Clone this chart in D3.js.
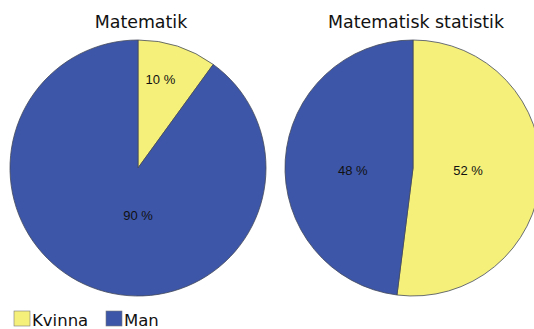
<!DOCTYPE html>
<html>
<head>
<meta charset="utf-8">
<script src="https://cdn.jsdelivr.net/npm/d3@7"></script>
<style>
  html, body { margin: 0; padding: 0; background: #fff; }
  svg { display: block; }
</style>
</head>
<body>
<svg id="chart" width="534" height="329"></svg>
<script>
// Gender split per subject (percent)
const subjects = ["Matematik", "Matematisk statistik"];
const genders = ["Kvinna", "Man"];
const kvinnaPct = [10, 52];
const manPct = [90, 48];
const colors = ["#f5f07a", "#3d56a8"];

const svg = d3.select("#chart");
const R = 128;
const centers = [{ x: 138, y: 168 }, { x: 413, y: 168 }];
const titleX = [141, 416];

// Label anchors within each pie, in units of the radius
const labelPos = [
  [{ dx: 0.175, dy: -0.69 }, { dx: 0.0, dy: 0.37 }],
  [{ dx: 0.43, dy: 0.02 }, { dx: -0.47, dy: 0.02 }]
];

const color = d3.scaleOrdinal().domain(genders).range(colors);
const pie = d3.pie().sort(null).value(d => d.value);
const arc = d3.arc().innerRadius(0).outerRadius(R);

subjects.forEach((subj, i) => {
  const data = [
    { key: genders[0], value: kvinnaPct[i] },
    { key: genders[1], value: manPct[i] }
  ];
  const g = svg.append("g").attr("transform", `translate(${centers[i].x},${centers[i].y})`);

  const arcs = pie(data);
  g.selectAll("path")
    .data(arcs)
    .join("path")
    .attr("d", arc)
    .attr("fill", d => color(d.data.key))
    .attr("stroke", "#444a5a")
    .attr("stroke-width", 0.8);

  g.selectAll("text.lbl")
    .data(arcs)
    .join("text")
    .attr("class", "lbl")
    .attr("x", (d, j) => labelPos[i][j].dx * R)
    .attr("y", (d, j) => labelPos[i][j].dy * R)
    .attr("dy", "0.35em")
    .attr("text-anchor", "middle")
    .style("font-family", "Liberation Sans, Arial, sans-serif")
    .style("font-size", "13px")
    .attr("fill", "#111")
    .text(d => d3.format("d")(d.data.value) + " %");

  svg.append("text")
    .attr("x", titleX[i])
    .attr("y", 28)
    .attr("text-anchor", "middle")
    .style("font-family", "DejaVu Sans, Verdana, sans-serif")
    .style("font-size", "17.4px")
    .attr("fill", "#111")
    .text(subj);
});

// Legend
const legend = svg.append("g").attr("transform", "translate(14,311)");
const legendX = [0, 92];
genders.forEach((gname, k) => {
  const lg = legend.append("g").attr("transform", `translate(${legendX[k]},0)`);
  lg.append("rect")
    .attr("x", 0).attr("y", 0)
    .attr("width", 16).attr("height", 15)
    .attr("fill", color(gname))
    .attr("stroke", "#7a7a7a")
    .attr("stroke-width", 0.6);
  lg.append("text")
    .attr("x", 18)
    .attr("y", 15)
    .style("font-family", "DejaVu Sans, Verdana, sans-serif")
    .style("font-size", "16.5px")
    .attr("fill", "#111")
    .text(gname);
});
</script>
</body>
</html>
